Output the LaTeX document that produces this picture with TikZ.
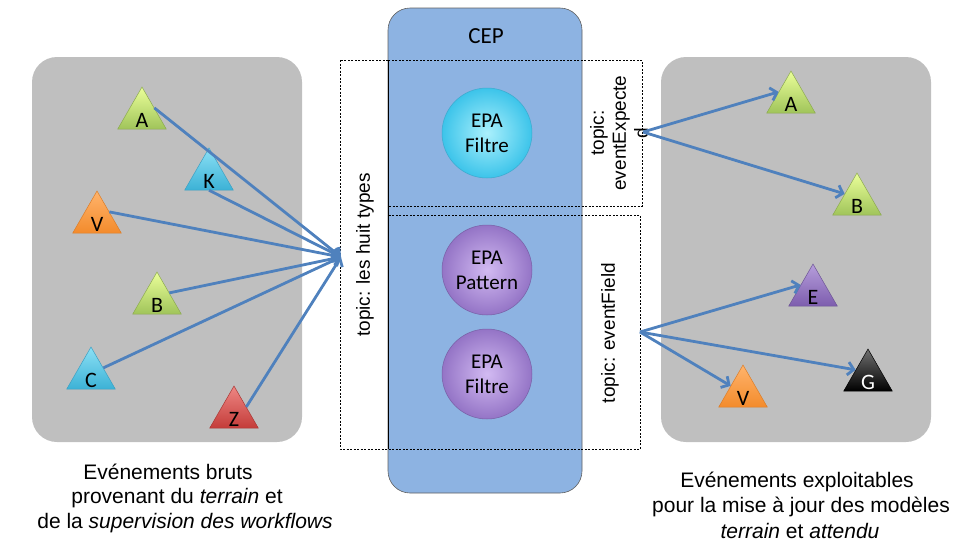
\documentclass[tikz,border=0pt]{standalone}
\usepackage{fontspec}
\setmainfont{Liberation Sans}
\newfontfamily\calfont{Carlito}
\usetikzlibrary{shapes.geometric,arrows.meta}
\definecolor{panelgray}{HTML}{BFBFBF}
\definecolor{cepblue}{HTML}{8DB3E2}
\definecolor{arrowblue}{HTML}{4F81BD}
\begin{document}
\begin{tikzpicture}[x=1pt,y=-1pt,
  tri/.style={regular polygon, regular polygon sides=3, minimum size=56pt, inner sep=0pt, line width=0.5pt},
  lab/.style={label={[anchor=base,inner sep=0pt,yshift=1.5pt,font=\calfont\fontsize{22}{26}\selectfont]south:#1}},
  tgreen/.style={top color=green!20!yellow!40!white, bottom color={rgb,255:red,160;green,196;blue,90}, draw={rgb,255:red,140;green,170;blue,80}},
  tcyan/.style={top color={rgb,255:red,140;green,224;blue,245}, bottom color={rgb,255:red,60;green,178;blue,214}, draw={rgb,255:red,60;green,160;blue,195}},
  torange/.style={top color={rgb,255:red,255;green,180;blue,108}, bottom color={rgb,255:red,243;green,139;blue,44}, draw={rgb,255:red,220;green,125;blue,40}},
  tred/.style={top color={rgb,255:red,238;green,135;blue,132}, bottom color={rgb,255:red,196;green,60;blue,57}, draw={rgb,255:red,170;green,55;blue,52}},
  tpurple/.style={top color={rgb,255:red,182;green,158;blue,219}, bottom color={rgb,255:red,125;green,93;blue,174}, draw={rgb,255:red,110;green,85;blue,150}},
  tblack/.style={top color={rgb,255:red,112;green,112;blue,112}, bottom color=black, draw=black},
  epa/.style={circle, minimum size=90pt, inner sep=0pt, align=center, font=\calfont\fontsize{21}{25}\selectfont, line width=0.5pt},
  dbox/.style={draw=black, line width=0.6pt, dash pattern=on 2pt off 1.5pt},
  arr/.style={draw=arrowblue, line width=2.8pt, -{Straight Barb[length=6pt,width=13pt]}},
  topic/.style={rotate=90, align=center, font=\fontsize{19}{22}\selectfont},
  caption/.style={font=\fontsize{21}{25}\selectfont}
]
\useasboundingbox (0,0) rectangle (968,544);
% panels
\fill[panelgray, rounded corners=25pt] (32,57) rectangle (302,442);
\fill[panelgray, rounded corners=25pt] (661,57) rectangle (931,442);
\draw[draw=gray!75!black, line width=0.6pt, fill=cepblue, rounded corners=22pt] (388,8) rectangle (582,493);
\node[font=\calfont\fontsize{23}{27}\selectfont] (cep) at (486,36) {CEP};
% dashed topic boxes
\draw[dbox] (340,60) rectangle (388,449);
\draw[dbox] (388,60) rectangle (642,206);
\draw[dbox] (388,215) rectangle (640,449);
\draw[black, line width=0.6pt] (388,60) -- (388,449);
% topic labels
\node[topic] (tl) at (365,255) {topic: les huit types};
\node[topic] (te) at (619,133) {topic:\\eventExpecte\\d};
\node[topic] (tf) at (610,333) {topic: eventField};
% EPA circles
\node[epa, inner color={rgb,255:red,170;green,240;blue,252}, outer color={rgb,255:red,60;green,196;blue,234}, draw={rgb,255:red,60;green,170;blue,205}] (f1) at (487,133) {EPA\\Filtre};
\node[epa, inner color={rgb,255:red,210;green,186;blue,242}, outer color={rgb,255:red,148;green,116;blue,198}, draw={rgb,255:red,120;green,95;blue,165}] (pat) at (487,270) {EPA\\Pattern};
\node[epa, inner color={rgb,255:red,210;green,186;blue,242}, outer color={rgb,255:red,148;green,116;blue,198}, draw={rgb,255:red,120;green,95;blue,165}] (f2) at (487,374) {EPA\\Filtre};
% left triangles
\node[tri, tgreen, lab=A] (lA) at (142,115) {};
\node[tri, tcyan, lab=K] (lK) at (209,176) {};
\node[tri, torange, lab=V] (lV) at (97,219) {};
\node[tri, tgreen, lab=B] (lB) at (157,300) {};
\node[tri, tcyan, lab=C] (lC) at (91,375) {};
\node[tri, tred, lab=Z] (lZ) at (234,414) {};
% right triangles
\node[tri, tgreen, lab=A] (rA) at (791,99) {};
\node[tri, tgreen, lab=B] (rB) at (857,201) {};
\node[tri, tpurple, lab=E] (rE) at (813,292) {};
\node[tri, tblack, label={[anchor=base,inner sep=0pt,yshift=1.5pt,text=white,font=\calfont\fontsize{22}{26}\selectfont]south:G}] (rG) at (868,377) {};
\node[tri, torange, lab=V] (rV) at (743,393) {};
% connector points
\coordinate (inL) at (341,257);
\coordinate (outE) at (643,132);
\coordinate (outF) at (640,332);
% arrows
\draw[arr] (lA.side 3) -- (inL);
\draw[arr] (lK.side 2) -- (inL);
\draw[arr] (lV.side 3) -- (inL);
\draw[arr] (lB.side 3) -- (inL);
\draw[arr] (lC.side 3) -- (inL);
\draw[arr] (lZ.side 3) -- (inL);
\draw[arr] (outE) -- (rA.side 1);
\draw[arr] (outE) -- (rB.side 1);
\draw[arr] (outF) -- (rE.side 1);
\draw[arr] (outF) -- (rG.side 1);
\draw[arr] (outF) -- (rV.side 1);
% captions
\node[caption] (c1) at (168,472) {Evénements bruts};
\node[caption] (c2) at (177,498) {provenant du \textit{terrain} et};
\node[caption] (c3) at (185,523) {de la \textit{supervision des workflows}};
\node[caption] (d1) at (797,482) {Evénements exploitables};
\node[caption] (d2) at (801,507) {pour la mise à jour des modèles};
\node[caption] (d3) at (800,531) {\textit{terrain} et \textit{attendu}};
\end{tikzpicture}
\end{document}
